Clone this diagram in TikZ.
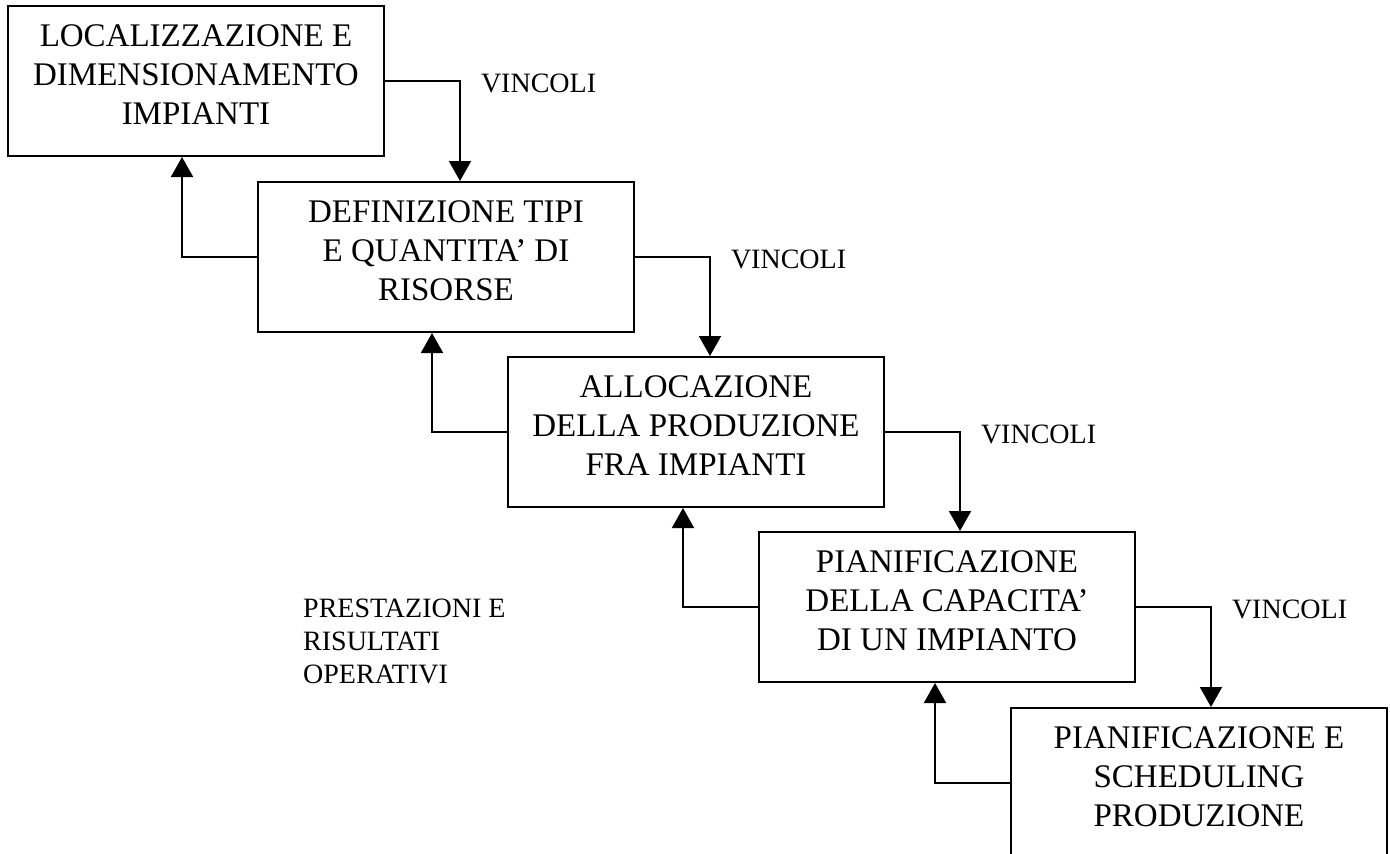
\documentclass[tikz,border=0pt]{standalone}
\usepackage{fontspec}
\setmainfont{Liberation Serif}
\usetikzlibrary{arrows.meta}

\begin{document}
\begin{tikzpicture}[x=1pt, y=-1pt,
  livello/.style={draw, line width=2pt, minimum width=376pt, minimum height=150pt,
    inner sep=0pt, align=center, font=\fontsize{33}{39}\selectfont,
    execute at end node={\rule[-12pt]{0pt}{12pt}}},
  vincolo/.style={anchor=west, inner sep=0pt, font=\fontsize{28}{33}\selectfont},
  freccia/.style={line width=2pt, -{Triangle[width=22pt,length=20pt]}}]
  \useasboundingbox (0,0) rectangle (1390,854);

  % livelli decisionali
  \node[livello] (loc) at (196,81) {LOCALIZZAZIONE E\\DIMENSIONAMENTO\\IMPIANTI};
  \node[livello] (ris) at (446,257) {DEFINIZIONE TIPI\\E QUANTITA' DI\\RISORSE};
  \node[livello] (all) at (696,432) {ALLOCAZIONE\\DELLA PRODUZIONE\\FRA IMPIANTI};
  \node[livello] (cap) at (947,607) {PIANIFICAZIONE\\DELLA CAPACITA'\\DI UN IMPIANTO};
  \node[livello] (sch) at (1199,783) {PIANIFICAZIONE E\\SCHEDULING\\PRODUZIONE};

  % vincoli verso il livello sotto
  \draw[freccia] (loc.east) -- ++(75,0) coordinate (v1)
    node[vincolo, xshift=20pt, yshift=-2pt] (vin1) {VINCOLI} -- (v1 |- ris.north);
  \draw[freccia] (ris.east) -- ++(75,0) coordinate (v2)
    node[vincolo, xshift=20pt, yshift=-2pt] (vin2) {VINCOLI} -- (v2 |- all.north);
  \draw[freccia] (all.east) -- ++(75,0) coordinate (v3)
    node[vincolo, xshift=20pt, yshift=-2pt] (vin3) {VINCOLI} -- (v3 |- cap.north);
  \draw[freccia] (cap.east) -- ++(75,0) coordinate (v4)
    node[vincolo, xshift=20pt, yshift=-2pt] (vin4) {VINCOLI} -- (v4 |- sch.north);

  % ritorni verso il livello sopra
  \draw[freccia] (ris.west) -- ++(-75,0) coordinate (r1) -- (r1 |- loc.south);
  \draw[freccia] (all.west) -- ++(-75,0) coordinate (r2) -- (r2 |- ris.south);
  \draw[freccia] (cap.west) -- ++(-75,0) coordinate (r3) -- (r3 |- all.south);
  \draw[freccia] (sch.west) -- ++(-75,0) coordinate (r4) -- (r4 |- cap.south);

  % prestazioni
  \node[vincolo, align=left] (prest) at (303,641) {PRESTAZIONI E\\RISULTATI\\OPERATIVI};
\end{tikzpicture}
\end{document}
